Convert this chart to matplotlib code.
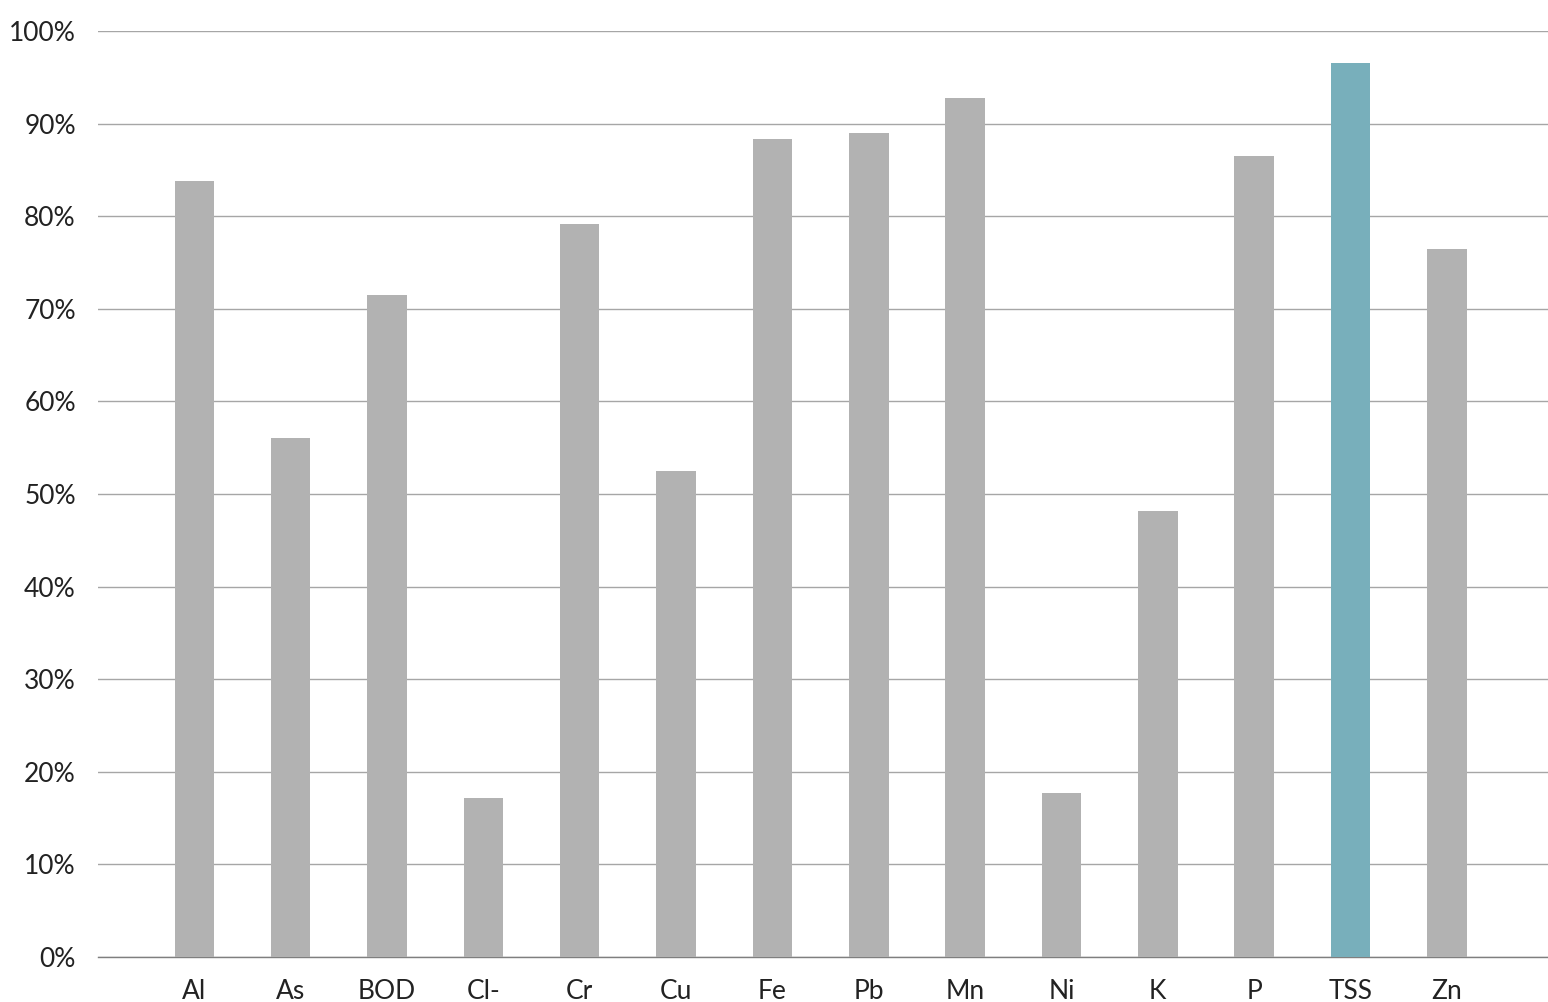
import numpy as np
import matplotlib.pyplot as plt
from matplotlib.ticker import FuncFormatter

categories = ["Al", "As", "BOD", "Cl-", "Cr", "Cu", "Fe", "Pb", "Mn", "Ni", "K", "P", "TSS", "Zn"]
values = [83.8, 56.0, 71.5, 17.2, 79.2, 52.5, 88.3, 89.0, 92.8, 17.7, 48.2, 86.5, 96.5, 76.5]
highlight = "TSS"

plt.rcParams['font.family'] = ['Lato', 'DejaVu Sans']

fig = plt.figure(figsize=(15.48, 10.02), dpi=100)
ax = fig.add_axes([98 / 1548, 1 - 957 / 1002, (1548 - 98) / 1548, (957 - 31) / 1002])

x = np.arange(len(categories))
colors = ["#78afbb" if c == highlight else "#b2b2b2" for c in categories]
ax.bar(x, values, width=0.41, color=colors, zorder=3)

ax.set_xlim(-1.0, 14.05)
ax.set_ylim(0, 100)
ax.set_yticks(np.arange(0, 101, 10))
ax.yaxis.set_major_formatter(FuncFormatter(lambda v, p: f"{v:.0f}%"))
ax.set_xticks(x)
ax.set_xticklabels(categories)
ax.grid(axis='y', color='#a6a6a6', linewidth=1, zorder=0)
ax.tick_params(axis='both', length=0, labelsize=19, colors='#222222')
ax.tick_params(axis='y', pad=16)
ax.tick_params(axis='x', pad=16)
for s in ['left', 'right', 'top']:
    ax.spines[s].set_visible(False)
ax.spines['bottom'].set_color('#7f7f7f')
ax.spines['bottom'].set_linewidth(1)

fig.savefig("out.png", dpi=100)
